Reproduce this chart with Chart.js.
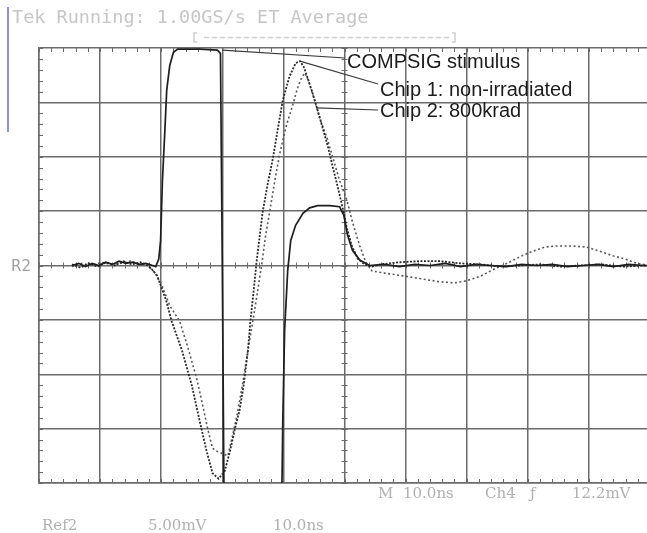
<!DOCTYPE html>
<html>
<head>
<meta charset="utf-8">
<style>
  html, body { margin: 0; padding: 0; background: #fff; overflow: hidden; }
  #scope { position: absolute; left: 0; top: 0; }
</style>
<script src="https://cdn.jsdelivr.net/npm/chart.js@4.4.1/dist/chart.umd.min.js"></script>
</head>
<body>
<canvas id="scope" width="660" height="533"></canvas>
<script>
// time in ns (10 ns/div), amplitude in mV (5 mV/div)
var stimT = [5.4, 6.5, 7.6, 8.7, 9.8, 10.9, 12.0, 13.1, 14.2, 15.3, 16.4, 17.5, 18.6, 19.1, 19.6, 19.9,
  20.2, 20.6, 20.9, 21.4, 22.0, 22.7, 26.3, 29.2, 29.7, 30.0, 30.3, 39.7, 39.9, 40.2, 40.7, 41.2,
  42.0, 43.2, 44.3, 45.6, 47.6, 49.2, 49.9, 50.5, 51.3, 52.5, 54.1, 56.5, 59, 61.5, 64, 66.5,
  69, 71.5, 74, 76.5, 79, 81.5, 84, 86.5, 89, 91.5, 94, 96.5, 99, 101];
var stimV = [0, 0.2, -0.1, 0.2, 0, 0.3, 0.1, 0.4, 0.2, 0.3, 0.1, 0.2, 0, -0.1, 0.6, 2.3,
  7.8, 12.4, 16.1, 18.4, 19.6, 19.9, 19.9, 19.8, 19.5, 0, -23, -23, -14.3, -6.0, -0.5, 2.3,
  3.7, 4.8, 5.3, 5.5, 5.5, 5.4, 4.6, 2.8, 1.4, 0.5, 0, 0.1, -0.1, 0.1, 0, 0.2,
  -0.1, 0.1, 0, -0.1, 0.1, 0, 0.1, -0.1, 0, 0.1, -0.1, 0.1, 0, 0];

var chip1T = [5.4, 6.8, 8.2, 9.6, 11.0, 12.4, 13.8, 15.2, 16.6, 17.8, 18.4, 19.3, 20.1, 20.9, 21.7, 23.4,
  25.0, 26.3, 27.4, 28.4, 29.4, 30.4, 31.2, 32.2, 32.8, 33.5, 34.2, 34.6, 35.1, 35.6, 36.1, 36.6,
  37.4, 38.3, 39.1, 39.9, 41.0, 42.0, 42.7, 43.3, 44.0, 44.8, 45.6, 46.4, 47.3, 48.1, 48.9, 49.7,
  50.4, 51.2, 52.2, 53.3, 54.5, 55.8, 59.0, 62.3, 65.6, 68.9, 72.2, 75.5, 78.7, 82, 85.3, 88.6,
  92, 95.5, 99.5, 101];
var chip1V = [0.1, -0.2, 0.2, -0.1, 0.3, 0, 0.4, 0.1, 0.3, 0, -0.3, -0.9, -2.1, -3.4, -5.1, -7.8,
  -11.0, -14.3, -17.0, -19.1, -19.6, -18.9, -17.2, -14.7, -13.4, -11.0, -7.8, -5.1, -2.5, 0.3, 2.6, 4.9,
  7.4, 9.9, 12.6, 15.2, 17.4, 18.6, 18.8, 18.3, 17.2, 15.8, 14.3, 12.7, 10.9, 9.0, 7.2, 5.3,
  3.4, 1.8, 0.6, 0.1, -0.1, 0.1, 0.3, 0.4, 0.4, 0.2, 0.1, -0.1, 0, 0.1, -0.1, 0,
  0.1, -0.1, 0, 0];

var chip2T = [5.4, 7.0, 8.6, 10.2, 11.8, 13.4, 15.0, 16.6, 17.8, 18.9, 20.1, 21.4, 23.0, 24.3, 25.9, 26.8,
  27.6, 28.4, 29.2, 30.1, 30.9, 31.5, 32.4, 33.3, 34.2, 35.0, 35.8, 36.5, 37.1, 37.8, 38.6, 39.4,
  40.5, 41.5, 42.3, 43.0, 43.5, 44.1, 45.1, 45.9, 47.1, 48.1, 49.2, 50.4, 51.3, 52.5, 53.5, 54.5,
  56.6, 59.0, 62.3, 65.6, 68.0, 70.0, 72.2, 74.6, 76.6, 78.7, 80.3, 82.8, 84.7, 86.9, 89.6, 91.8,
  93.9, 95.9, 97.8, 99.9, 101];
var chip2V = [-0.1, 0.2, 0, 0.3, 0.1, 0.2, 0.4, 0.1, 0, -0.6, -1.8, -3.7, -5.1, -7.4, -10.6, -12.9,
  -15.0, -16.8, -17.1, -17.3, -17.5, -16.1, -13.8, -11.0, -7.8, -5.1, -2.3, 0.3, 2.8, 5.1, 7.8, 10.3,
  12.9, 14.7, 16.3, 17.3, 17.7, 17.0, 15.2, 13.6, 11.8, 9.9, 7.8, 6.0, 4.0, 1.8, 0.3, -0.5,
  -0.7, -0.9, -1.2, -1.5, -1.6, -1.4, -1.0, -0.3, 0.2, 0.8, 1.2, 1.7, 1.8, 1.8, 1.7, 1.3,
  0.9, 0.6, 0.2, 0, 0];

var seriesNames = ['COMPSIG stimulus', 'Chip 1: non-irradiated', 'Chip 2: 800krad'];
// where each label's pointer touches its trace (ns, mV)
var pointerAt = [[30.0, 19.8], [42.7, 18.8], [45.4, 14.5]];

var gridCol = '#6b6b6b';

function pts(t, v) {
  return t.map(function (x, i) { return { x: x, y: v[i] }; });
}

// small tick marks on the centre cross and on the frame, like a scope graticule
var graticule = {
  id: 'graticule',
  beforeDatasetsDraw: function (chart) {
    var c = chart.ctx, a = chart.chartArea;
    var xs = chart.scales.x, ys = chart.scales.y;
    var x0 = xs.getPixelForValue(50), y0 = ys.getPixelForValue(0);
    c.save();
    c.strokeStyle = gridCol;
    c.lineWidth = 1;
    c.beginPath();
    for (var t = 0; t <= 100; t += 2) {
      var px = Math.round(xs.getPixelForValue(t)) + 0.5;
      c.moveTo(px, y0 - 3); c.lineTo(px, y0 + 3);
      c.moveTo(px, a.bottom); c.lineTo(px, a.bottom - 4);
      c.moveTo(px, a.top); c.lineTo(px, a.top + 4);
    }
    for (var m = -20; m <= 20; m += 1) {
      var py = Math.round(ys.getPixelForValue(m)) + 0.5;
      c.moveTo(x0 - 3, py); c.lineTo(x0 + 3, py);
      c.moveTo(a.left, py); c.lineTo(a.left + 4, py);
    }
    c.stroke();
    c.restore();
  },
  afterDraw: function (chart) {
    var c = chart.ctx;
    var xs = chart.scales.x, ys = chart.scales.y;
    c.save();

    // faint status texts of the scope screen
    c.fillStyle = '#c6c6c6';
    c.font = '18.5px "DejaVu Sans Mono"';
    c.textBaseline = 'alphabetic';
    c.fillText('Tek Running: 1.00GS/s ET Average', 12, 23);

    c.strokeStyle = '#d0d0d0';
    c.lineWidth = 1.5;
    c.setLineDash([5, 3]);
    c.beginPath(); c.moveTo(204, 37.5); c.lineTo(452, 37.5); c.stroke();
    c.setLineDash([]);
    c.beginPath();
    c.moveTo(197, 33); c.lineTo(194, 33); c.lineTo(194, 42); c.lineTo(197, 42);
    c.moveTo(452, 33); c.lineTo(455, 33); c.lineTo(455, 42); c.lineTo(452, 42);
    c.stroke();

    c.strokeStyle = '#8c8cf0';
    c.lineWidth = 2;
    c.beginPath(); c.moveTo(8, 7); c.lineTo(8, 132); c.stroke();

    c.fillStyle = '#a0a0a0';
    c.font = '15px "DejaVu Sans"';
    c.fillText('R2', 11, 271);

    c.fillStyle = '#b0b0b0';
    c.font = '15px "DejaVu Serif"';
    c.fillText('M', 378, 498);
    c.fillText('10.0ns', 403, 498);
    c.fillText('Ch4', 485, 498);
    c.fillText('\u0192', 530, 498);
    c.fillText('12.2mV', 572, 498);
    c.fillText('Ref2', 42, 530);
    c.fillText('5.00mV', 148, 530);
    c.fillText('10.0ns', 273, 530);

    // labels with pointer lines
    var ends = [[345, 58], [378, 84], [378, 110]];
    var textPos = [[347, 68], [380, 96], [380, 117]];
    c.strokeStyle = '#3a3a3a';
    c.lineWidth = 1.2;
    for (var i = 0; i < 3; i++) {
      var sx = xs.getPixelForValue(pointerAt[i][0]);
      var sy = ys.getPixelForValue(pointerAt[i][1]);
      c.beginPath(); c.moveTo(sx, sy); c.lineTo(ends[i][0], ends[i][1]); c.stroke();
    }
    c.fillStyle = '#1c1c1c';
    c.font = '20px "Liberation Sans", Arial, sans-serif';
    for (var j = 0; j < 3; j++) {
      c.fillText(seriesNames[j], textPos[j][0], textPos[j][1]);
    }
    c.restore();
  }
};

var config = {
  type: 'line',
  data: {
    datasets: [{
      label: seriesNames[0],
      data: pts(stimT, stimV),
      borderColor: '#1e1e1e',
      borderWidth: 1.7
    }, {
      label: seriesNames[1],
      data: pts(chip1T, chip1V),
      borderColor: '#2a2a2a',
      borderWidth: 1.8,
      borderDash: [2, 1.5]
    }, {
      label: seriesNames[2],
      data: pts(chip2T, chip2V),
      borderColor: '#585858',
      borderWidth: 1.6,
      borderDash: [2, 2.5]
    }]
  },
  options: {
    responsive: false,
    animation: false,
    layout: { padding: { left: 39, top: 48, right: 10, bottom: 50 } },
    elements: { point: { radius: 0 }, line: { tension: 0 } },
    plugins: { legend: { display: false }, tooltip: { enabled: false } },
    scales: {
      x: {
        type: 'linear', min: 0, max: 100,
        ticks: { display: false, stepSize: 10 },
        grid: { color: gridCol, lineWidth: 1.5, drawTicks: false },
        border: { display: true, color: gridCol, width: 1.5 }
      },
      y: {
        type: 'linear', min: -20, max: 20,
        ticks: { display: false, stepSize: 5 },
        grid: { color: gridCol, lineWidth: 1.5, drawTicks: false },
        border: { display: true, color: gridCol, width: 1.5 }
      }
    }
  },
  plugins: [graticule]
};

new Chart(document.getElementById('scope').getContext('2d'), config);
</script>
</body>
</html>
